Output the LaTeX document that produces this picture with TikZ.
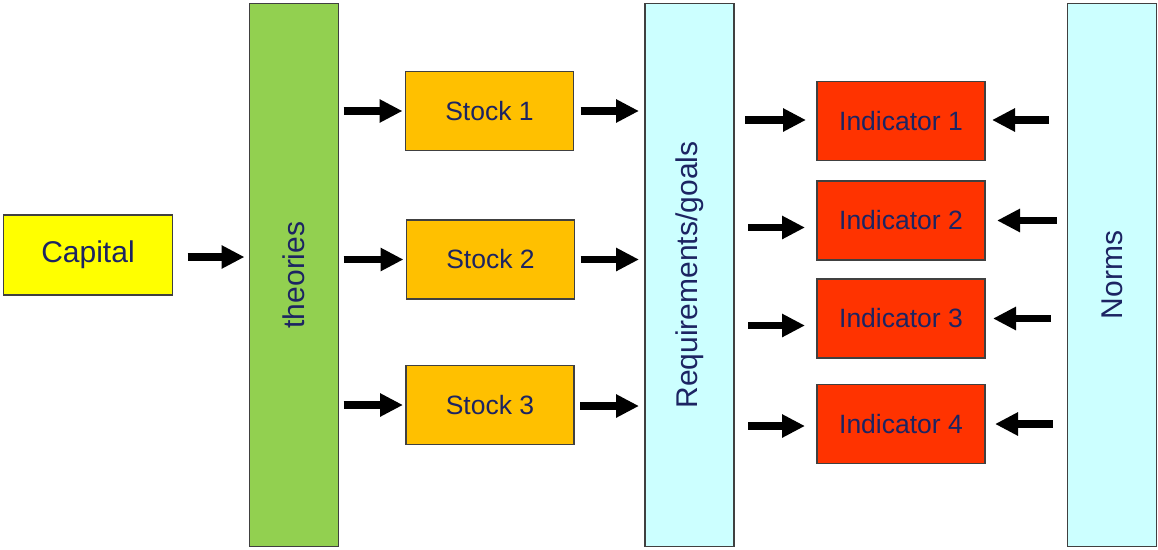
\documentclass[tikz,border=0pt]{standalone}
\usepackage{fontspec}
\setmainfont{Liberation Sans}
\usetikzlibrary{arrows.meta}
\definecolor{txtnavy}{RGB}{28,36,98}
\definecolor{capyellow}{RGB}{255,255,0}
\definecolor{theogreen}{RGB}{146,208,80}
\definecolor{stockorange}{RGB}{255,192,0}
\definecolor{paleCyan}{RGB}{204,255,255}
\definecolor{indred}{RGB}{255,51,0}
\definecolor{edgegrey}{RGB}{64,64,64}
\tikzset{
  box/.style={draw=edgegrey, line width=1.2pt, inner sep=0pt, outer sep=0pt,
    text=txtnavy, align=center},
  bigtxt/.style={font=\fontsize{30}{36}\selectfont},
  smalltxt/.style={font=\fontsize{26.5}{32}\selectfont},
  column/.style={box, bigtxt, minimum width=89pt, minimum height=543pt},
  stockbox/.style={box, smalltxt, fill=stockorange, minimum width=168pt, minimum height=79pt},
  indbox/.style={box, smalltxt, fill=indred, minimum width=168pt, minimum height=79pt},
  flow/.style={line width=7.5pt, -{Triangle[length=23pt,width=22pt]}, black},
}
\begin{document}
\begin{tikzpicture}[x=1pt,y=-1pt]
\useasboundingbox (0,0) rectangle (1158,549);

% source box
\node[box, bigtxt, fill=capyellow, minimum width=169pt, minimum height=80pt] (cap) at (88,255) {Capital};

% tall columns
\node[column, fill=theogreen] (theo) at (294,275) {};
\node[bigtxt, text=txtnavy, rotate=90] at (theo.center) {theories};
\node[column, fill=paleCyan] (req) at (689.5,275) {};
\node[bigtxt, text=txtnavy, rotate=90] at (req.center) {Requirements/goals};
\node[column, fill=paleCyan] (norms) at (1112,275) {};
\node[bigtxt, text=txtnavy, rotate=90] at (norms.center) {Norms};

% stocks
\node[stockbox] (s1) at (489.5,111) {Stock 1};
\node[stockbox] (s2) at (490.5,259.5) {Stock 2};
\node[stockbox] (s3) at (490,405) {Stock 3};

% indicators
\node[indbox] (i1) at (901,121) {Indicator 1};
\node[indbox] (i2) at (901,220.5) {Indicator 2};
\node[indbox] (i3) at (901,318.5) {Indicator 3};
\node[indbox] (i4) at (901,424) {Indicator 4};

% capital -> theories
\draw[flow] ([xshift=15pt,yshift=-2pt]cap.east) -- ([xshift=-5pt,yshift=-2pt]theo.west |- cap.east);

% theories -> stocks
\foreach \s in {s1,s2,s3}
  \draw[flow] ([xshift=5pt]theo.east |- \s.west) -- ([xshift=-3pt]\s.west);

% stocks -> requirements
\draw[flow] ([xshift=7pt]s1.east) -- ([xshift=-6pt]req.west |- s1.east);
\draw[flow] ([xshift=6pt]s2.east) -- ([xshift=-6pt]req.west |- s2.east);
\draw[flow] ([xshift=6pt,yshift=-1pt]s3.east) -- ([xshift=-6pt,yshift=-1pt]req.west |- s3.east);

% requirements -> indicators
\draw[flow] ([xshift=11pt,yshift=1pt]req.east |- i1.west) -- ([xshift=-11pt,yshift=1pt]i1.west);
\draw[flow] ([xshift=14pt,yshift=-7pt]req.east |- i2.west) -- ([xshift=-12pt,yshift=-7pt]i2.west);
\draw[flow] ([xshift=14pt,yshift=-7pt]req.east |- i3.west) -- ([xshift=-12pt,yshift=-7pt]i3.west);
\draw[flow] ([xshift=14pt,yshift=-2pt]req.east |- i4.west) -- ([xshift=-12pt,yshift=-2pt]i4.west);

% norms -> indicators
\draw[flow] ([xshift=-19pt,yshift=1pt]norms.west |- i1.east) -- ([xshift=7pt,yshift=1pt]i1.east);
\draw[flow] ([xshift=-11pt]norms.west |- i2.east) -- ([xshift=12pt]i2.east);
\draw[flow] ([xshift=-17pt]norms.west |- i3.east) -- ([xshift=8pt]i3.east);
\draw[flow] ([xshift=-15pt]norms.west |- i4.east) -- ([xshift=10pt]i4.east);
\end{tikzpicture}
\end{document}
